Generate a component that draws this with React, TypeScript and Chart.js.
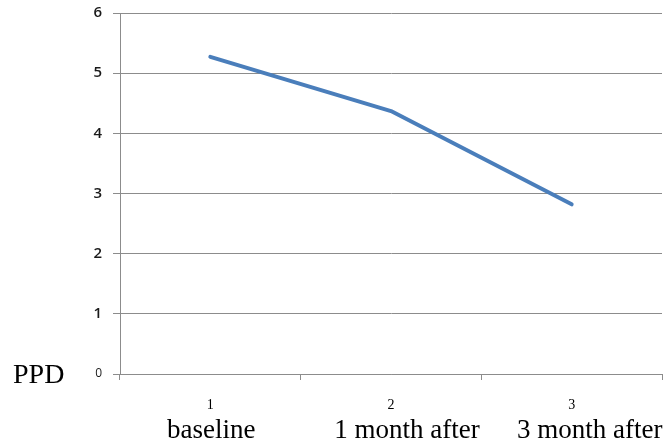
import React, { useEffect, useRef } from 'react';
import { Chart, registerables, Plugin } from 'chart.js';

Chart.register(...registerables);

// tick labels under the x axis, and the caption written under each one
const categories = ['1', '2', '3'];
const captions = ['baseline', '1 month after', '3 month after'];
// PPD
const ppdValues = [5.27, 4.37, 2.82];
const yMin = 0;
const yMax = 6;

const GRID = '#8c8c8c';
const SERIF = '"Liberation Serif", "Times New Roman", serif';

// captions are not centred exactly on their ticks in the original
const captionShift = [1, 16, 18];

const captionPlugin: Plugin<'line'> = {
  id: 'captions',
  afterDraw(chart) {
    const { ctx } = chart;
    const x = chart.scales.x;
    const y = chart.scales.y;
    ctx.save();
    ctx.fillStyle = '#000';
    ctx.font = `27px ${SERIF}`;
    ctx.textAlign = 'center';
    ctx.textBaseline = 'alphabetic';
    captions.forEach((c, i) => {
      ctx.fillText(c, x.getPixelForValue(i) + captionShift[i], x.bottom - 5);
    });
    ctx.font = `28px ${SERIF}`;
    ctx.textAlign = 'left';
    ctx.textBaseline = 'middle';
    ctx.fillText('PPD', 13, y.getPixelForValue(0) + 2);
    ctx.restore();
  },
};

export default function App() {
  const canvasRef = useRef<HTMLCanvasElement>(null);
  const chartRef = useRef<Chart | null>(null);

  useEffect(() => {
    document.body.style.margin = '0';
    if (!canvasRef.current) return;
    if (chartRef.current) chartRef.current.destroy();

    chartRef.current = new Chart(canvasRef.current, {
      type: 'line',
      data: {
        labels: categories,
        datasets: [
          {
            label: 'PPD',
            data: ppdValues,
            borderColor: '#4a7ebb',
            borderWidth: 4,
            pointRadius: 0,
            tension: 0,
            borderCapStyle: 'round',
            borderJoinStyle: 'round',
          },
        ],
      },
      options: {
        animation: false,
        responsive: true,
        maintainAspectRatio: false,
        layout: { padding: { top: 13, right: 8, left: 0, bottom: 0 } },
        plugins: { legend: { display: false }, tooltip: { enabled: false } },
        scales: {
          x: {
            offset: true,
            grid: { offset: true, drawOnChartArea: false, drawTicks: true, tickLength: 6, color: GRID },
            border: { display: true, color: GRID },
            ticks: { color: '#000', font: { family: SERIF, size: 14 }, padding: 17, maxRotation: 0 },
            afterFit: (s: any) => {
              s.height = 69;
            },
          },
          y: {
            min: yMin,
            max: yMax,
            grid: { color: GRID, tickLength: 7 },
            border: { display: true, color: GRID },
            ticks: {
              stepSize: 1,
              color: '#1a1a1a',
              padding: 11,
              font: (c: any) =>
                c.tick && c.tick.value === 0
                  ? { family: '"Open Sans", sans-serif', size: 12, weight: 'normal' }
                  : { family: '"Open Sans", sans-serif', size: 15, weight: '600' },
            },
            afterFit: (s: any) => {
              s.width = 120;
              s.paddingTop = 0;
              s.paddingBottom = 0;
            },
          },
        },
      },
      plugins: [captionPlugin],
    });

    return () => {
      chartRef.current?.destroy();
      chartRef.current = null;
    };
  }, []);

  return (
    <div style={{ position: 'absolute', left: 0, top: 0, width: 670, height: 443, background: '#fff' }}>
      <canvas ref={canvasRef} />
    </div>
  );
}
